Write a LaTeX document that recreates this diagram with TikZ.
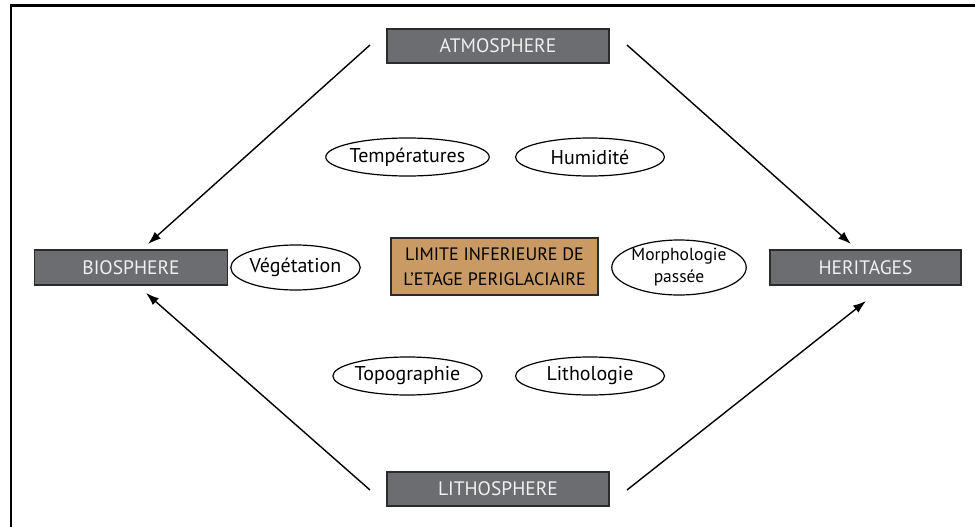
\documentclass[tikz,border=0pt]{standalone}
\usepackage{fontspec}
\setmainfont{PT Sans}
\usetikzlibrary{arrows.meta,shapes.geometric}
\definecolor{boxgray}{HTML}{6B6D70}
\definecolor{boxedge}{HTML}{2B2B2B}
\definecolor{tan}{HTML}{C99A64}
\tikzset{
  sphere/.style={draw=boxedge, line width=1.4pt, fill=boxgray, text=white!94!black, minimum height=34pt, inner sep=0pt, font=\fontsize{19.5}{21}\selectfont},
  centerbox/.style={draw=boxedge, line width=1.2pt, fill=tan, text=black, minimum width=207pt, minimum height=57pt, inner sep=0pt, align=center, font=\fontsize{18}{25}\selectfont},
  oval/.style={draw=black, line width=1.2pt, ellipse, inner sep=0pt, minimum height=38pt, align=center, font=\fontsize{20}{22}\selectfont},
  conn/.style={line width=1.4pt, -{Latex[length=13pt,width=9pt]}}
}
\begin{document}
\begin{tikzpicture}[x=1pt,y=-1pt]
\useasboundingbox (0,0) rectangle (975,527);
\draw[line width=2.6pt] (975,5.5) -- (11,5.5) -- (11,527);
% boxes
\node[sphere, minimum width=222pt] (atm) at (498,46) {ATMOSPHERE};
\node[sphere, minimum width=222pt] (lith) at (498,489) {LITHOSPHERE};
\node[sphere, minimum width=193pt, minimum height=35pt] (bio) at (131,267.5) {BIOSPHERE};
\node[sphere, minimum width=191pt, minimum height=35pt] (her) at (865.5,267.5) {HERITAGES};
\node[centerbox] (lim) at (494.5,266.5) {LIMITE INFERIEURE DE\\L’ETAGE PERIGLACIAIRE};
% ellipses
\node[oval, minimum width=146pt] (temp) at (407.5,157) {Températures};
\node[oval, minimum width=149pt] (hum) at (590,157) {Humidité};
\node[oval, minimum width=125pt, minimum height=45pt] (veg) at (295.5,267.5) {Végétation};
\node[oval, minimum width=133pt, minimum height=55pt, font=\fontsize{17.5}{22}\selectfont] (morph) at (679,267.5) {Morphologie\\passée};
\node[oval, minimum width=146pt] (topo) at (407.5,376) {Topographie};
\node[oval, minimum width=149pt] (litho) at (590,376) {Lithologie};
% connectors
\coordinate (a1) at (370,45);
\coordinate (a2) at (627,45);
\coordinate (l1) at (370,490);
\coordinate (l2) at (627,490);
\coordinate (bt) at (148,244);
\coordinate (bb) at (146,293);
\coordinate (ht) at (851,244);
\coordinate (hb) at (866,301);
\draw[conn] (a1) -- (bt);
\draw[conn] (a2) -- (ht);
\draw[conn] (l1) -- (bb);
\draw[conn] (l2) -- (hb);
\end{tikzpicture}
\end{document}
